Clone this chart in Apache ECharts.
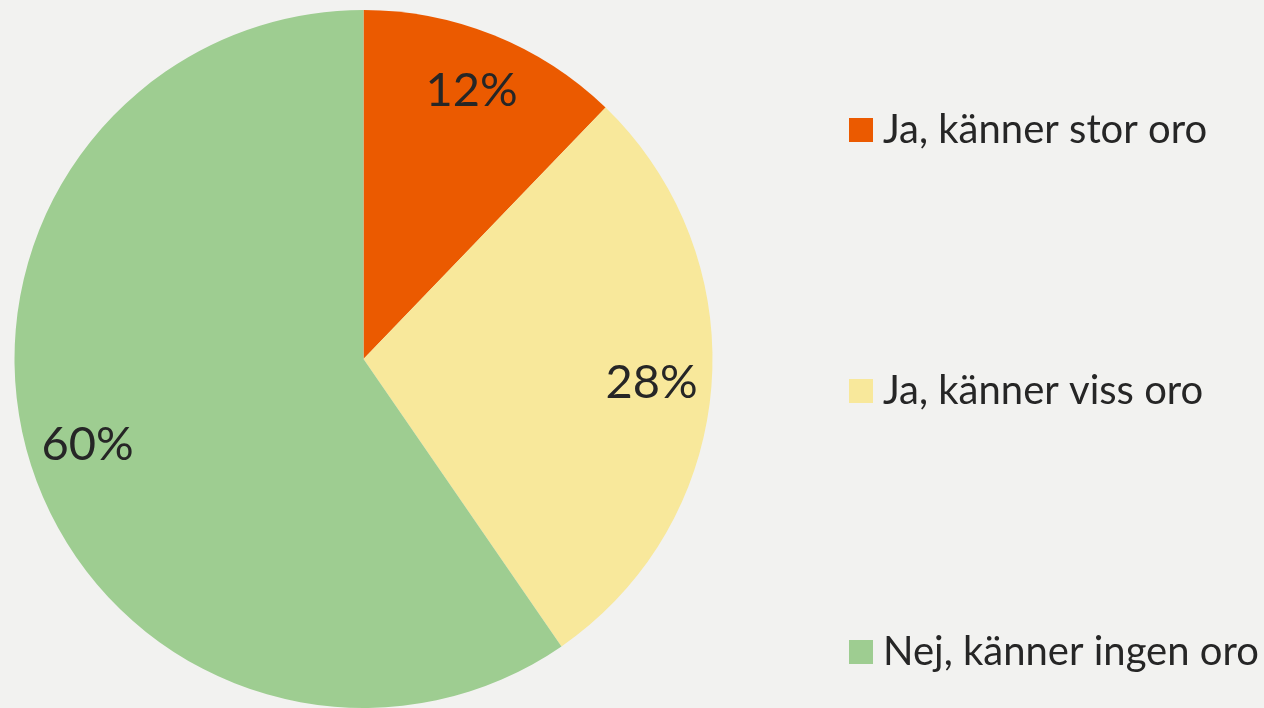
<!DOCTYPE html>
<html>
<head>
<meta charset="utf-8">
<script src="https://cdn.jsdelivr.net/npm/echarts@6/dist/echarts.min.js"></script>
<style>
  html, body { margin: 0; padding: 0; background: #f2f2f0; }
  #chart { width: 1264px; height: 708px; }
</style>
</head>
<body>
<div id="chart"></div>
<script>
var categories = ['Ja, känner stor oro', 'Ja, känner viss oro', 'Nej, känner ingen oro']
// shares; labels show them rounded
var values = [12.2, 28.2, 59.6]
var colors = ['#eb5a00', '#f8e89b', '#9ecd91']

var pieData = categories.map(function (name, i) {
  return { name: name, value: values[i], itemStyle: { color: colors[i] } }
})
// same slices, transparent, only to push the labels further out
var labelData = categories.map(function (name, i) {
  return { name: name, value: values[i], itemStyle: { color: 'rgba(0,0,0,0)' } }
})

var chart = echarts.init(document.getElementById('chart'))
chart.setOption({
  backgroundColor: '#f2f2f0',
  animation: false,
  textStyle: { fontFamily: 'Lato' },
  legend: {
    orient: 'vertical',
    left: 844,
    top: 105,
    itemWidth: 24,
    itemHeight: 24,
    itemGap: 221,
    icon: 'rect',
    data: categories,
    textStyle: {
      fontFamily: 'Lato',
      fontSize: 40,
      color: '#262626',
      padding: [0, 0, 0, 5]
    }
  },
  series: [
    {
      type: 'pie',
      center: [363.5, 359],
      radius: [0, 349],
      startAngle: 90,
      clockwise: true,
      label: { show: false },
      labelLine: { show: false },
      emphasis: { scale: false },
      data: pieData
    },
    {
      type: 'pie',
      center: [363.5, 359],
      radius: [0, 572],
      startAngle: 90,
      clockwise: true,
      silent: true,
      label: {
        show: true,
        position: 'inside',
        formatter: function (p) { return Math.round(p.value) + '%' },
        fontFamily: 'Lato',
        fontSize: 47,
        color: '#262626'
      },
      labelLine: { show: false },
      data: labelData
    }
  ]
})
</script>
</body>
</html>
